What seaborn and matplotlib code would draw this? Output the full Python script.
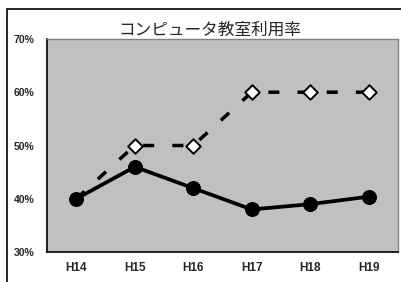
import matplotlib.pyplot as plt
import pandas as pd
import seaborn as sns
from matplotlib.patches import Rectangle

years = ["H14", "H15", "H16", "H17", "H18", "H19"]
actual = [40.0, 46.0, 42.0, 38.0, 39.0, 40.4]
target = [40.0, 50.0, 50.0, 60.0, 60.0, 60.0]

sns.set_style("white")
plt.rcParams["font.family"] = ["Noto Sans CJK JP", "DejaVu Sans"]

df = pd.DataFrame({"year": years, "actual": actual, "target": target})
df["pos"] = range(len(years))

fig = plt.figure(figsize=(4.02, 2.82), dpi=100)
ax = fig.add_axes([0.117, 0.106, 0.873, 0.756])
ax.set_facecolor("#c0c0c0")

# dashed target line with white diamonds (first point hidden under the circle)
sns.lineplot(data=df, x="pos", y="target", ax=ax, color="black",
             linewidth=2.5, linestyle=(0, (3.2, 5.2)), zorder=2)
sns.scatterplot(data=df.iloc[1:], x="pos", y="target", ax=ax, marker="D",
                s=55, color="white", edgecolor="black", linewidth=1.4, zorder=3)

# solid actual line with black circles
sns.lineplot(data=df, x="pos", y="actual", ax=ax, color="black",
             linewidth=2.7, marker="o", markersize=10,
             markeredgecolor="black", zorder=4)

ax.set_xlim(-0.5, 5.5)
ax.set_ylim(30, 70)
ax.set_xticks([i - 0.5 for i in range(1, 6)], minor=False)
ax.set_xticklabels([])
ax.set_xticks(df["pos"], minor=True)
ax.set_xticklabels(years, minor=True, fontsize=8.5, family="Liberation Sans",
                   fontweight="bold")
ax.tick_params(axis="x", which="major", direction="in", length=4, width=1, color="black")
ax.tick_params(axis="x", which="minor", length=0, pad=7)
ax.set_yticks([30, 40, 50, 60, 70])
ax.set_yticklabels([f"{v}%" for v in [30, 40, 50, 60, 70]], fontsize=7.5,
                   family="Liberation Sans", fontweight="bold")
ax.tick_params(axis="y", direction="out", length=3, width=1, color="black", pad=6)
ax.set_xlabel("")
ax.set_ylabel("")

for side in ["left", "bottom"]:
    ax.spines[side].set_color("black")
    ax.spines[side].set_linewidth(1.2)
for side in ["top", "right"]:
    ax.spines[side].set_color("#808080")
    ax.spines[side].set_linewidth(1)

fig.text(0.522, 0.893, "コンピュータ教室利用率", ha="center", va="center", fontsize=12)

fig.patches.append(Rectangle((7 / 402, -0.1), 1.2, 1 - 9 / 282 + 0.1,
                             transform=fig.transFigure, fill=False,
                             edgecolor="black", linewidth=1.2))

fig.savefig("out.png", dpi=100)
